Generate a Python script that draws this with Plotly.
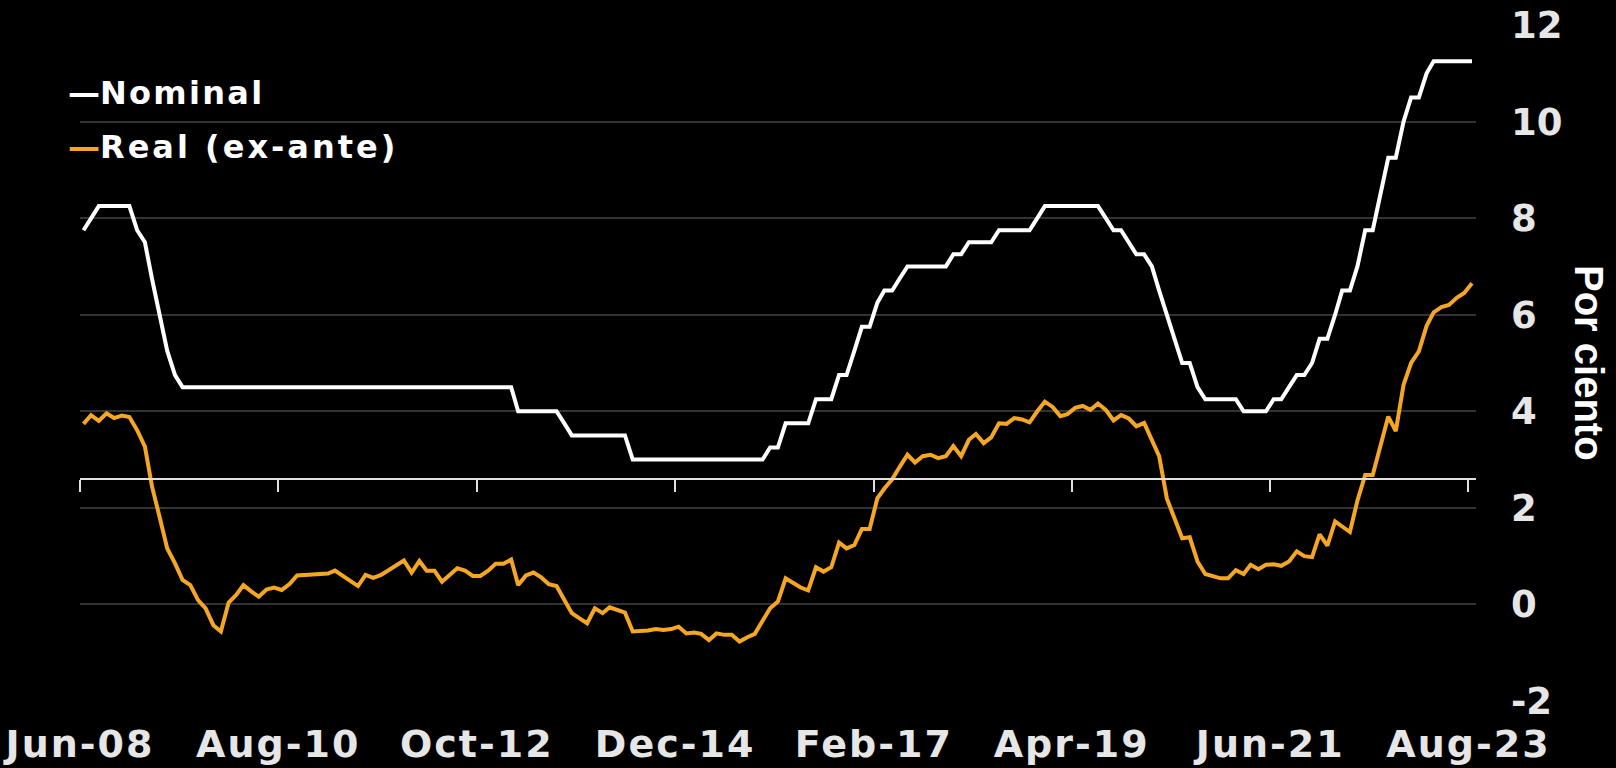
import plotly.graph_objects as go
import pandas as pd

# ---------------- data (monthly, Jun-2008 .. Aug-2023) ----------------
nominal = [
    7.75, 8.0, 8.25, 8.25, 8.25, 8.25, 8.25,
    7.75, 7.5, 6.75, 6.0, 5.25, 4.75,
    4.5, 4.5, 4.5, 4.5, 4.5, 4.5, 4.5, 4.5, 4.5, 4.5, 4.5,
    4.5, 4.5, 4.5, 4.5, 4.5, 4.5, 4.5, 4.5, 4.5, 4.5, 4.5,
    4.5, 4.5, 4.5, 4.5, 4.5, 4.5, 4.5, 4.5, 4.5, 4.5, 4.5,
    4.5, 4.5, 4.5, 4.5, 4.5, 4.5, 4.5, 4.5, 4.5, 4.5, 4.5,
    4.0, 4.0, 4.0, 4.0, 4.0, 4.0,
    3.75,
    3.5, 3.5, 3.5, 3.5, 3.5, 3.5, 3.5, 3.5,
    3.0, 3.0, 3.0, 3.0, 3.0, 3.0, 3.0, 3.0, 3.0,
    3.0, 3.0, 3.0, 3.0, 3.0, 3.0, 3.0, 3.0, 3.0,
    3.25, 3.25,
    3.75, 3.75, 3.75, 3.75,
    4.25, 4.25, 4.25,
    4.75, 4.75,
    5.25,
    5.75, 5.75,
    6.25,
    6.5, 6.5,
    6.75,
    7.0, 7.0, 7.0, 7.0, 7.0, 7.0,
    7.25, 7.25,
    7.5, 7.5, 7.5, 7.5,
    7.75, 7.75, 7.75, 7.75, 7.75,
    8.0,
    8.25, 8.25, 8.25, 8.25, 8.25, 8.25, 8.25, 8.25,
    8.0,
    7.75, 7.75,
    7.5,
    7.25, 7.25,
    7.0, 6.5, 6.0, 5.5,
    5.0, 5.0,
    4.5,
    4.25, 4.25, 4.25, 4.25, 4.25,
    4.0, 4.0, 4.0, 4.0,
    4.25, 4.25,
    4.5,
    4.75, 4.75,
    5.0,
    5.5, 5.5,
    6.0,
    6.5, 6.5,
    7.0,
    7.75, 7.75,
    8.5,
    9.25, 9.25,
    10.0,
    10.5, 10.5,
    11.0,
    11.25, 11.25, 11.25, 11.25, 11.25, 11.25,
]

real = [
    3.74, 3.92, 3.80, 3.96, 3.86, 3.91, 3.88, 3.61, 3.27, 2.45,
    1.80, 1.16, 0.85, 0.51, 0.40, 0.09, -0.08, -0.43, -0.56, 0.04,
    0.20, 0.40, 0.27, 0.16, 0.31, 0.35, 0.30, 0.42, 0.60, 0.61,
    0.61, 0.61, 0.64, 0.70, 0.59, 0.47, 0.38, 0.61, 0.55, 0.61,
    0.71, 0.82, 0.91, 0.66, 0.90, 0.70, 0.70, 0.47, 0.61, 0.75,
    0.70, 0.59, 0.59, 0.70, 0.84, 0.84, 0.93, 0.40, 0.60, 0.66,
    0.56, 0.42, 0.38, 0.08, -0.18, -0.29, -0.39, -0.08, -0.18, -0.06,
    -0.11, -0.17, -0.56, -0.56, -0.54, -0.51, -0.53, -0.51, -0.46, -0.60,
    -0.58, -0.61, -0.74, -0.60, -0.63, -0.63, -0.77, -0.68, -0.61, -0.34,
    -0.08, 0.06, 0.54, 0.45, 0.35, 0.29, 0.77, 0.68, 0.77, 1.28,
    1.16, 1.23, 1.56, 1.56, 2.20, 2.40, 2.59, 2.85, 3.10, 2.94,
    3.07, 3.10, 3.03, 3.07, 3.28, 3.07, 3.41, 3.53, 3.34, 3.46,
    3.75, 3.74, 3.86, 3.83, 3.77, 4.00, 4.20, 4.09, 3.90, 3.94,
    4.07, 4.11, 4.03, 4.16, 4.03, 3.81, 3.92, 3.85, 3.69, 3.76,
    3.40, 3.07, 2.19, 1.78, 1.37, 1.39, 0.89, 0.63, 0.58, 0.54,
    0.54, 0.71, 0.63, 0.82, 0.73, 0.82, 0.83, 0.80, 0.89, 1.10,
    1.00, 0.98, 1.45, 1.22, 1.72, 1.62, 1.50, 2.15, 2.68, 2.68,
    3.26, 3.89, 3.59, 4.55, 5.00, 5.24, 5.77, 6.05, 6.16, 6.20,
    6.35, 6.45, 6.65,
]

tick_dates = ["2008-06-01", "2010-08-01", "2012-10-01", "2014-12-01",
              "2017-02-01", "2019-04-01", "2021-06-01", "2023-08-01"]
tick_labels = ["Jun-08", "Aug-10", "Oct-12", "Dec-14",
               "Feb-17", "Apr-19", "Jun-21", "Aug-23"]
y_ticks = [-2, 0, 2, 4, 6, 8, 10, 12]
y_tick_labels = ["-2", "0", "2", "4", "6", "8", "10", "12"]

series_names = ["Nominal", "Real (ex-ante)"]
AXIS_CROSS = 2.6  # value where the horizontal axis line sits

assert len(nominal) == len(real) == 183

months = pd.date_range("2008-06-01", periods=len(nominal), freq="MS") + pd.Timedelta(days=14)

# ---------------- styling ----------------
W, H = 1616, 768
ML, MR, MT, MB = 80, 140, 25, 67
PW, PH = W - ML - MR, H - MT - MB
ORANGE = "#F5A623"
WHITE = "#FFFFFF"
GRID = "#333333"
TICKC = "#E6E6E6"
FONT = "DejaVu Sans"
XRANGE = ["2008-06-01", "2023-08-31"]
YRANGE = [-2, 12]


def px_x(x):
    return (x - ML) / PW


def px_y(y):
    return (H - MB - y) / PH


def spaced(txt, px):
    return f"<span style='letter-spacing:{px}px'>{txt}</span>"


fig = go.Figure()
fig.add_trace(go.Scatter(x=months, y=real, mode="lines", name=series_names[1],
                         line=dict(color=ORANGE, width=4), showlegend=False,
                         hoverinfo="skip"))
fig.add_trace(go.Scatter(x=months, y=nominal, mode="lines", name=series_names[0],
                         line=dict(color=WHITE, width=4), showlegend=False,
                         hoverinfo="skip"))
# helper (invisible) trace so that the crossing x-axis is drawn
fig.add_trace(go.Scatter(x=[months[0]], y=[None], xaxis="x2", yaxis="y",
                         mode="lines", showlegend=False, hoverinfo="skip"))

fig.update_layout(
    width=W, height=H,
    margin=dict(l=ML, r=MR, t=MT, b=MB, pad=0),
    paper_bgcolor="#000000", plot_bgcolor="#000000",
    showlegend=False,
    xaxis=dict(
        type="date", range=XRANGE, tickvals=tick_dates,
        ticktext=[spaced(t, 2) for t in tick_labels],
        showgrid=False, zeroline=False, showline=False, ticks="",
        tickfont=dict(family=FONT, size=38, color=TICKC, weight="bold"),
        ticklabelstandoff=17, automargin=False,
    ),
    xaxis2=dict(
        type="date", range=XRANGE, tickvals=tick_dates, overlaying="x",
        anchor="free", position=(AXIS_CROSS - YRANGE[0]) / (YRANGE[1] - YRANGE[0]),
        side="bottom", showline=True, linecolor="#E0E0E0", linewidth=2,
        ticks="outside", ticklen=12, tickwidth=2, tickcolor="#E0E0E0",
        showticklabels=False, showgrid=False, zeroline=False, automargin=False,
    ),
    yaxis=dict(
        side="right", range=YRANGE, tickvals=y_ticks, ticktext=y_tick_labels,
        showgrid=True, gridcolor=GRID, gridwidth=1.5, zeroline=False,
        showline=False, ticks="",
        tickfont=dict(family=FONT, size=37, color=TICKC, weight="bold"),
        ticklabelstandoff=34, automargin=False,
    ),
)

# legend as text annotations
legend_rows = [(series_names[0], WHITE, 92.5, 2.3), (series_names[1], ORANGE, 146.5, 3.0)]
for name, col, ypx, sp in legend_rows:
    fig.add_annotation(
        xref="paper", yref="paper", x=px_x(66), y=px_y(ypx),
        xanchor="left", yanchor="middle", showarrow=False,
        text=f"<span style='color:{col}'>—</span>" + spaced(name, sp),
        font=dict(family=FONT, size=32, color=WHITE, weight="bold"),
    )

fig.add_annotation(
    xref="paper", yref="paper", x=px_x(1589), y=0.5,
    xanchor="center", yanchor="middle", showarrow=False, textangle=90,
    text="Por ciento",
    font=dict(family="Liberation Sans", size=40, color=WHITE, weight="bold"),
)

fig.write_html(
    "out.html",
    config={"displayModeBar": False},
    post_script="document.body.style.margin='0';document.body.style.background='#000';",
)
